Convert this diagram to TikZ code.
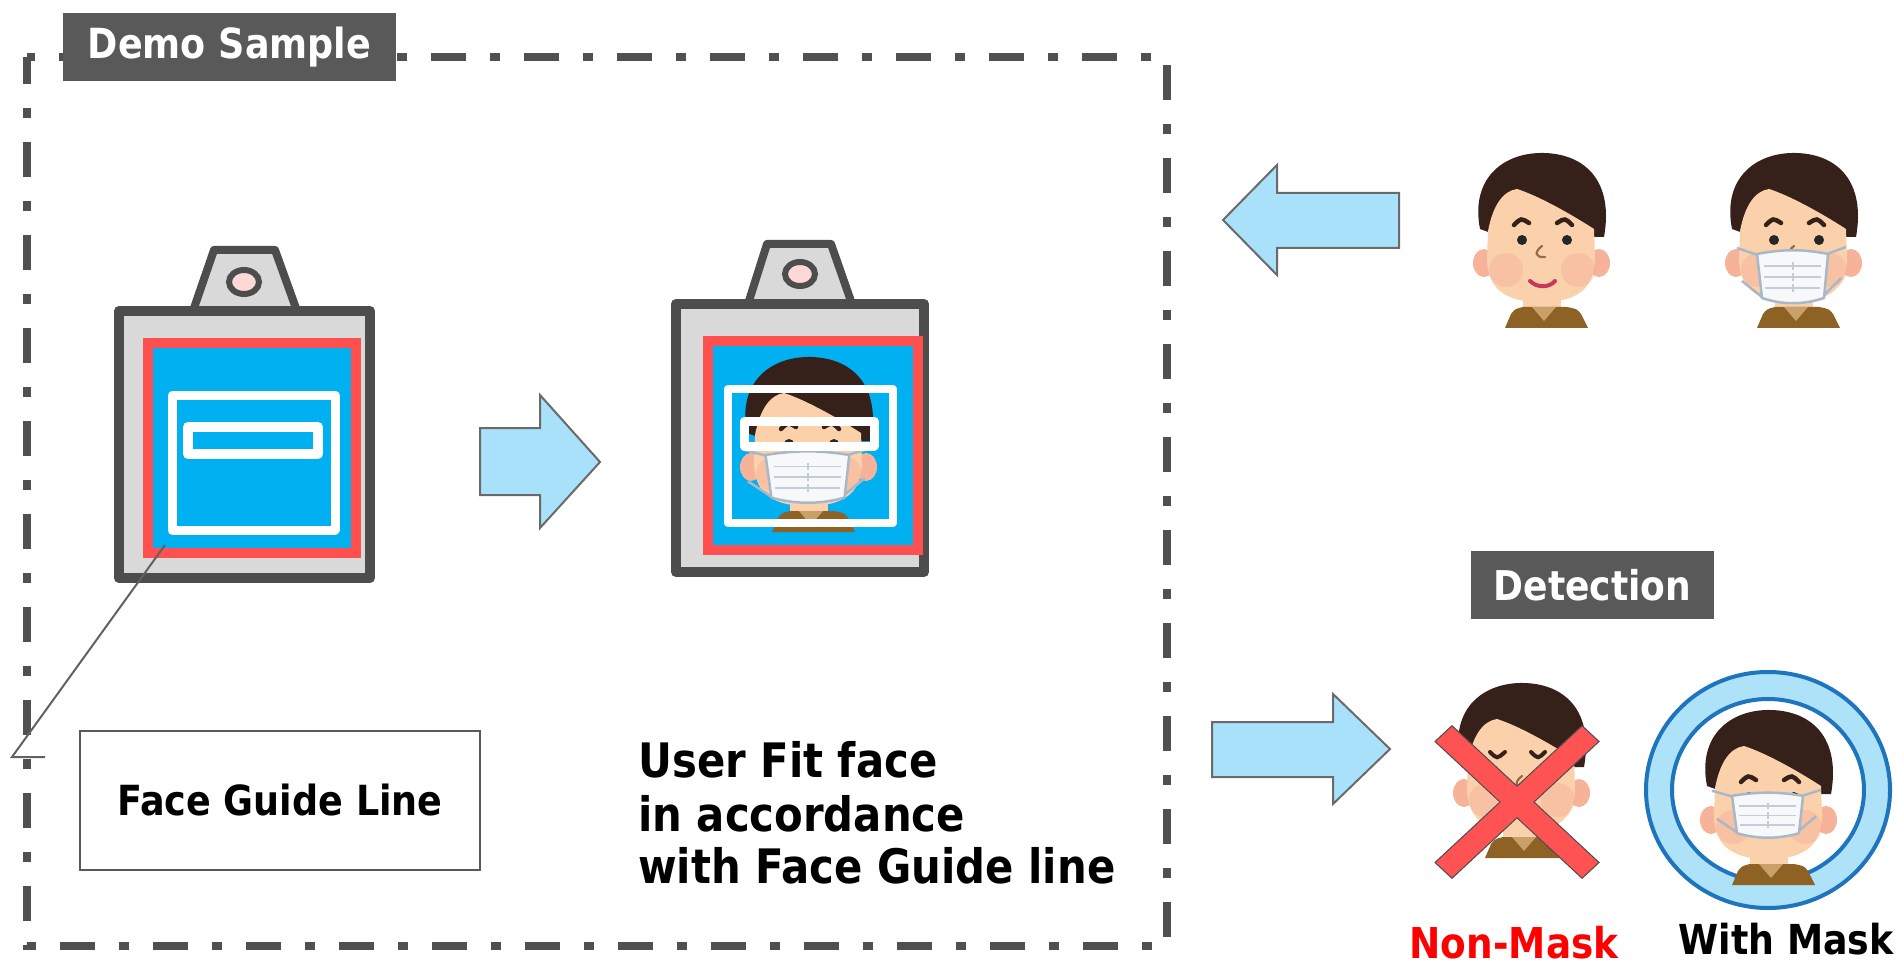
\documentclass[tikz,border=0pt]{standalone}
\usepackage{fontspec}
\newfontfamily\lblfont{DejaVu Sans}[FakeStretch=0.88]

\definecolor{frameGray}{HTML}{505050}
\definecolor{tagGray}{HTML}{595959}
\definecolor{bodyFill}{HTML}{D9D9D9}
\definecolor{bodyLine}{HTML}{4D4D4D}
\definecolor{guideRed}{HTML}{FF5050}
\definecolor{screenBlue}{HTML}{00B0F0}
\definecolor{holePink}{HTML}{FBD9D6}
\definecolor{arrowFill}{HTML}{AAE1FA}
\definecolor{arrowLine}{HTML}{6A6A6A}
\definecolor{hairBrown}{HTML}{35201A}
\definecolor{skinTone}{HTML}{FAD1AA}
\definecolor{earTone}{HTML}{F6B39A}
\definecolor{blushTone}{HTML}{F79A94}
\definecolor{shirtBrown}{HTML}{8E6124}
\definecolor{collarTan}{HTML}{C9A06A}
\definecolor{lipTone}{HTML}{C8385A}
\definecolor{noseTone}{HTML}{9A6A44}
\definecolor{maskLine}{HTML}{A9B8C8}
\definecolor{maskFill}{HTML}{F7F8FA}
\definecolor{ringFill}{HTML}{AEE2F8}
\definecolor{ringLine}{HTML}{1F74BE}
\definecolor{crossRed}{HTML}{FF5252}
\definecolor{noRed}{HTML}{FF0000}

\tikzset{
  lbl/.style={font=\lblfont\bfseries\fontsize{#1}{#1}\selectfont},
  tagbox/.style={fill=tagGray, text=white, inner sep=0pt},
  bigarrow/.style={fill=arrowFill, draw=arrowLine, line width=2pt, line join=miter},
  badgebody/.style={fill=bodyFill, draw=bodyLine, line width=10pt, line join=round},
  guideline/.style={draw=white, line join=round},
  leader/.style={draw=frameGray!90, line width=2pt},
  % head with hair, ears, neck and shirt; origin at the centre of the top of the hair
  facebase/.pic={
    \fill[hairBrown] (-61,76) .. controls (-71,25) and (-37,-1) .. (3,0)
        .. controls (44,1) and (73,28) .. (63,84) -- (50,84) -- (-50,80) -- cycle;
    \fill[earTone] (-57,110) ellipse[x radius=11, y radius=14];
    \fill[earTone] (58,110) ellipse[x radius=11, y radius=14];
    \fill[skinTone] (-18,138) rectangle (20,158);
    \fill[shirtBrown] (-36,175) -- (-30,161) .. controls (-26,156) .. (-18,154) -- (26,154)
        .. controls (36,156) .. (40,161) -- (47,175) -- cycle;
    \fill[collarTan] (-9,154) -- (3,168) -- (15,154) -- cycle;
    \fill[skinTone] (-53,78) .. controls (-48,52) and (-38,38) .. (-24,36)
        .. controls (-5,42) and (25,58) .. (53,76) -- (54,105)
        .. controls (54,140) and (30,149) .. (0,149)
        .. controls (-30,149) and (-54,140) .. (-54,105) -- cycle;
    \fill[blushTone, fill opacity=0.28] (-35,117) circle[radius=17];
    \fill[blushTone, fill opacity=0.28] (37,117) circle[radius=17];
  },
  openeyes/.pic={
    \draw[hairBrown, line width=4.5pt, line cap=round] (-27,72) .. controls (-20,65) .. (-12,70);
    \draw[hairBrown, line width=4.5pt, line cap=round] (16,70) .. controls (24,65) .. (31,72);
    \fill[black!85] (-19,87) circle[radius=5];
    \fill[black!85] (26,87) circle[radius=5];
    \draw[noseTone, line width=2.2pt, line cap=round] (1,93) .. controls (-7,99) and (-6,105) .. (4,104);
  },
  smileface/.pic={
    \pic {facebase};
    \pic {openeyes};
    \draw[lipTone, line width=4pt, line cap=round] (-11,128) .. controls (-4,135) and (8,135) .. (14,128);
  },
  maskface/.pic={
    \pic {facebase};
    \pic {openeyes};
    \draw[maskLine, line width=2.5pt] (-35,102) -- (-56,95) (-31,144) -- (-51,128)
        (34,101) -- (53,94) (31,142) -- (48,125);
    \filldraw[fill=maskFill, draw=maskLine, line width=2.5pt, line join=round]
        (-36,101) .. controls (-10,96) and (10,96) .. (35,101) -- (31,145)
        .. controls (10,152) and (-10,152) .. (-31,145) -- cycle;
    \draw[maskLine!70, line width=1.6pt] (-29,113) -- (28,113) (-29,124) -- (28,124) (-28,135) -- (27,135)
        (0,109) -- (0,117) (0,120) -- (0,128) (0,131) -- (0,139);
  },
  closedface/.pic={
    \pic {facebase};
    \draw[hairBrown, line width=4pt, line cap=round] (-31,69) .. controls (-24,76) .. (-16,69);
    \draw[hairBrown, line width=4pt, line cap=round] (10,69) .. controls (17,76) .. (24,69);
    \draw[noseTone, line width=2.2pt, line cap=round] (1,93) .. controls (-7,99) and (-6,105) .. (4,104);
  },
}

\begin{document}
\begin{tikzpicture}[x=1pt, y=-1pt]
  \useasboundingbox (0,0) rectangle (1895,965);
  \fill[white] (0,0) rectangle (1895,965);

  % dash-dot frame around the demo
  \draw[frameGray, line width=8pt, dash pattern=on 35pt off 24pt on 10pt off 24pt, dash phase=8pt]
    (27,57) rectangle (1167,946);
  \node[tagbox, lbl=41.5, minimum width=333pt, minimum height=68pt] (demo) at (229.5,47) {Demo Sample};

  % ---- left badge: empty screen with face guide ----
  \filldraw[badgebody, line width=8pt] (193,311) -- (214,250) -- (275,250) -- (297,311) -- cycle;
  \filldraw[badgebody] (119,311) rectangle (370,578);
  \filldraw[fill=holePink, draw=bodyLine, line width=6pt] (244,282) ellipse[x radius=15, y radius=12];
  \filldraw[fill=screenBlue, draw=guideRed, line width=10pt] (148,343) rectangle (356,553);
  \draw[guideline, line width=9pt] (172,395) rectangle (335,530);
  \draw[guideline, line width=10pt] (188,427) rectangle (318,454);

  % ---- right badge: user's face fitted into the guide ----
  \filldraw[badgebody, line width=8pt] (748,304) -- (767,244) -- (831,244) -- (852,304) -- cycle;
  \filldraw[badgebody] (676,304) rectangle (924,572);
  \filldraw[fill=holePink, draw=bodyLine, line width=6pt] (800,274) ellipse[x radius=15, y radius=12];
  \filldraw[fill=screenBlue, draw=guideRed, line width=10pt] (708,341) rectangle (918,550);
  \begin{scope}
    \clip (713,346) rectangle (913,545);
    \pic[xscale=1.18, yscale=0.97] at (808,357) {maskface};
  \end{scope}
  \draw[guideline, line width=8pt] (728,389) rectangle (893,523);
  \draw[guideline, line width=9pt] (744,421) rectangle (874,446);

  % callout from the guide to its caption
  \coordinate (leadA) at (165,545);
  \coordinate (leadB) at (12,757);
  \coordinate (leadC) at (45,757);
  \draw[leader] (leadA) -- (leadB) -- (leadC);
  \node[draw=tagGray, line width=1.5pt, minimum width=400pt, minimum height=139pt, inner sep=0pt,
        lbl=41.5] (guide) at (280,800.5) {Face Guide Line};

  \node[lbl=47.5, anchor=base west, inner sep=0pt] (fitA) at (638,777) {User Fit face};
  \node[lbl=47.5, anchor=base west, inner sep=0pt] (fitB) at (638,831) {in accordance};
  \node[lbl=47.5, anchor=base west, inner sep=0pt] (fitC) at (638,883) {with Face Guide line};

  % block arrows
  \draw[bigarrow] (480,428) -- (540,428) -- (540,395) -- (600,462) -- (540,528) -- (540,495) -- (480,495) -- cycle;
  \draw[bigarrow] (1399,193) -- (1277,193) -- (1277,165) -- (1223,220) -- (1277,275) -- (1277,248) -- (1399,248) -- cycle;
  \draw[bigarrow] (1212,722) -- (1333,722) -- (1333,694) -- (1390,749) -- (1333,804) -- (1333,777) -- (1212,777) -- cycle;

  % incoming users
  \pic at (1541,153) {smileface};
  \pic at (1793,153) {maskface};

  % detection results
  \node[tagbox, lbl=41, minimum width=243pt, minimum height=68pt] (detect) at (1592.5,585) {Detection};

  \pic at (1521,683) {closedface};
  \begin{scope}[shift={(1517,802)}, yscale=0.93, rotate=45]
    \filldraw[fill=crossRed, draw=black!70, line width=1pt, line join=miter]
      (104,12) -- (12,12) -- (12,104) -- (-12,104) -- (-12,12) -- (-104,12) -- (-104,-12)
      -- (-12,-12) -- (-12,-104) -- (12,-104) -- (12,-12) -- (104,-12) -- cycle;
  \end{scope}

  \filldraw[fill=ringFill, draw=ringLine, line width=4pt, even odd rule]
    (1768,790) ellipse[x radius=122, y radius=118] (1768,790) ellipse[x radius=96, y radius=91];
  \pic[yscale=0.85] at (1768,710) {maskface};

  \node[lbl=42.5, text=noRed, anchor=base, inner sep=0pt] (nonmask) at (1514,958) {Non-Mask};
  \node[lbl=41.3, anchor=base, inner sep=0pt] (withmask) at (1786,954) {With Mask};
\end{tikzpicture}
\end{document}
